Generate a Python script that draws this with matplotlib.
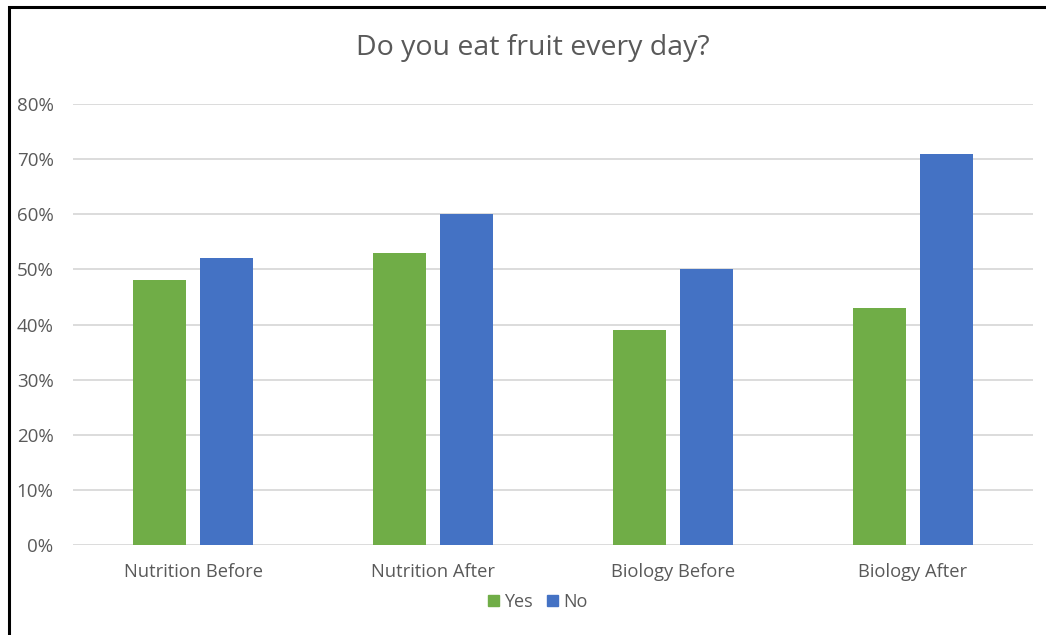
import numpy as np
import matplotlib
matplotlib.use("Agg")
import matplotlib.pyplot as plt
from matplotlib.patches import Rectangle, Patch

# data
categories = ["Nutrition Before", "Nutrition After", "Biology Before", "Biology After"]
yes_vals = [48, 53, 39, 43]
no_vals = [52, 60, 50, 71]
y_ticks = [0, 10, 20, 30, 40, 50, 60, 70, 80]

GREEN = "#70AD47"
BLUE = "#4472C4"
GRID = "#D9D9D9"
TEXT = "#595959"

plt.rcParams["font.family"] = ["Open Sans", "DejaVu Sans"]

W, H = 1046, 635
fig = plt.figure(figsize=(W / 100, H / 100), dpi=100)
fig.patch.set_facecolor("white")

ax = fig.add_axes([73 / W, 1 - 545 / H, 960 / W, 441 / H])
x = np.arange(len(categories))
bw = 0.22
ax.bar(x - 0.14, yes_vals, bw, color=GREEN, label="Yes", zorder=3)
ax.bar(x + 0.14, no_vals, bw, color=BLUE, label="No", zorder=3)

ax.set_xlim(-0.5, len(categories) - 0.5)
ax.set_ylim(0, 80)
ax.set_yticks(y_ticks)
ax.set_yticklabels([f"{v}%" for v in y_ticks], color=TEXT, fontsize=13.5)
ax.set_xticks(x)
ax.set_xticklabels(categories, color=TEXT, fontsize=13.2)
ax.tick_params(length=0)
ax.tick_params(axis="y", pad=14)
ax.tick_params(axis="x", pad=13)
ax.grid(axis="y", color=GRID, linewidth=1.3, zorder=0)
for s in ax.spines.values():
    s.set_visible(False)

fig.text(533 / W, 1 - 48 / H, "Do you eat fruit every day?", ha="center", va="center",
         fontsize=20.5, color=TEXT)

handles = [Patch(color=GREEN, label="Yes"), Patch(color=BLUE, label="No")]
fig.legend(handles=handles, loc="center", bbox_to_anchor=(538 / W, 1 - 602 / H), ncol=2,
           frameon=False, fontsize=13, handlelength=0.6, handleheight=0.6,
           handletextpad=0.3, columnspacing=0.8, labelcolor=TEXT)

# frame around the chart (left and top edges visible)
fig.patches.append(Rectangle((9 / W, -0.05), 1.1, 1 - 7 / H + 0.05, transform=fig.transFigure,
                             fill=False, edgecolor="black", linewidth=2.2))

fig.savefig("out.png", dpi=100)
